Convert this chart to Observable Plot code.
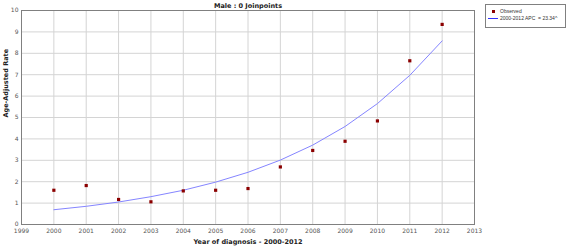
<!DOCTYPE html>
<html>
<head>
<meta charset="utf-8">
<script src="https://cdn.jsdelivr.net/npm/d3@7"></script>
<script src="https://cdn.jsdelivr.net/npm/@observablehq/plot@0.6"></script>
<style>
  html, body { margin: 0; padding: 0; background: #fff; }
  #wrap { position: relative; width: 567px; height: 247px; font-family: "DejaVu Sans", Verdana, sans-serif; }
  #legend { position: absolute; left: 485px; top: 4px; width: 81px; height: 24px; border: 1px solid #808080; box-sizing: border-box; font-family: "Liberation Sans", Arial, sans-serif; font-size: 5px; color: #333; background: #fff; }
  #legend .row { position: absolute; left: 2px; white-space: nowrap; line-height: 6px; }
  #legend .sq { display: inline-block; width: 3px; height: 3px; background: #8b0000; margin: 0 5px 0 4px; vertical-align: middle; }
  #legend .ln { display: inline-block; width: 10px; height: 1px; background: #3030ff; margin: 0 2px 0 0; vertical-align: middle; }
</style>
</head>
<body>
<div id="wrap"></div>
<script>
const title = "Male : 0 Joinpoints";
const xLabel = "Year of diagnosis - 2000-2012";
const yLabel = "Age-Adjusted Rate";
const years = [2000, 2001, 2002, 2003, 2004, 2005, 2006, 2007, 2008, 2009, 2010, 2011, 2012];
const observed = [1.60, 1.82, 1.17, 1.06, 1.57, 1.60, 1.68, 2.69, 3.46, 3.89, 4.84, 7.65, 9.35];
const fitted = [0.69, 0.85, 1.05, 1.30, 1.60, 1.98, 2.44, 3.01, 3.71, 4.58, 5.65, 6.97, 8.58];
const xTicks = [1999, 2000, 2001, 2002, 2003, 2004, 2005, 2006, 2007, 2008, 2009, 2010, 2011, 2012, 2013];
const yTicks = [0, 1, 2, 3, 4, 5, 6, 7, 8, 9, 10];
const legendObserved = "Observed";
const legendFit = "2000-2012 APC &nbsp;= 23.34^";

const obsData = years.map((y, i) => ({year: y, value: observed[i]}));
const fitData = years.map((y, i) => ({year: y, value: fitted[i]}));

const chart = Plot.plot({
  width: 567,
  height: 247,
  marginLeft: 21,
  marginRight: 93,
  marginTop: 10,
  marginBottom: 23,
  style: {fontFamily: "DejaVu Sans, Verdana, sans-serif", fontSize: "6px", background: "#fff", overflow: "visible"},
  x: {domain: [1999, 2013], ticks: xTicks, tickFormat: d => String(d), tickSize: 0, tickPadding: 4,
      label: null},
  y: {domain: [0, 10], ticks: yTicks, tickSize: 0, tickPadding: 3, label: null},
  marks: [
    Plot.gridX(xTicks, {stroke: "#d4d4d4", strokeOpacity: 1, strokeWidth: 1}),
    Plot.gridY(yTicks, {stroke: "#d4d4d4", strokeOpacity: 1, strokeWidth: 1}),
    Plot.axisX({ticks: xTicks, tickFormat: d => String(d), tickSize: 0, tickPadding: 4, fill: "#555", label: null}),
    Plot.axisY({ticks: yTicks, tickSize: 0, tickPadding: 3, fill: "#555", label: null}),
    Plot.frame({stroke: "#808080", strokeWidth: 1}),
    Plot.line(fitData, {x: "year", y: "value", stroke: "#8585ff", strokeWidth: 1}),
    Plot.dot(obsData, {x: "year", y: "value", symbol: "square", r: 1.8, fill: "#8b0000", stroke: null}),
    Plot.text([title], {frameAnchor: "top", dy: -7, text: d => d, fontWeight: "bold", fontSize: 6.5, fill: "#222"}),
    Plot.text([xLabel], {frameAnchor: "bottom", dy: 19, text: d => d, fontWeight: "bold", fontSize: 6.5, fill: "#222"}),
    Plot.text([yLabel], {frameAnchor: "left", dx: -16, rotate: -90, text: d => d, fontWeight: "bold", fontSize: 6.5, fill: "#222"})
  ]
});

const wrap = document.getElementById("wrap");
wrap.appendChild(chart);
const legend = document.createElement("div");
legend.id = "legend";
legend.innerHTML = `<div class="row" style="top:3px"><span class="sq"></span>${legendObserved}</div>
<div class="row" style="top:10px"><span class="ln"></span>${legendFit}</div>`;
wrap.appendChild(legend);
</script>
</body>
</html>
